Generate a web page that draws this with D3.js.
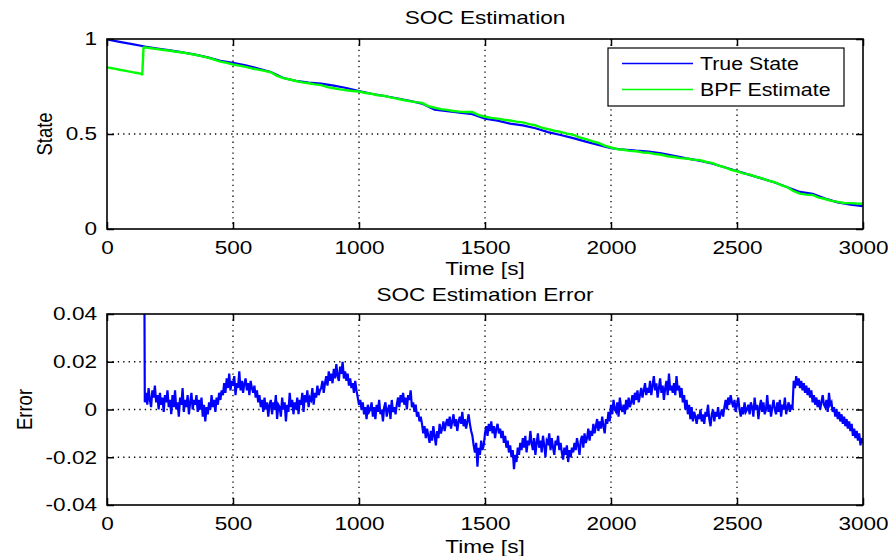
<!DOCTYPE html>
<html><head><meta charset="utf-8">
<script src="https://cdn.jsdelivr.net/npm/d3@7/dist/d3.min.js"></script>
<style>
html,body{margin:0;padding:0;background:#fff;}
svg text{font-family:"Liberation Sans",Arial,Helvetica,sans-serif;fill:#000;}
</style></head>
<body>
<svg id="chart" width="888" height="556"></svg>
<script>
// ---------------- DATA ----------------
const xTicks = [0, 500, 1000, 1500, 2000, 2500, 3000];
const stateTicks = [0, 0.5, 1];
const stateTickLabels = ["0", "0.5", "1"];
// error axis is kept in units of 1e-3
const errorTicks = [-40, -20, 0, 20, 40];
const errorTickLabels = ["-0.04", "-0.02", "0", "0.02", "0.04"];
const seriesNames = ["True State", "BPF Estimate"];

// True state (SOC)
const trueTime = [0,50,100,145,150,200,250,300,350,400,450,500,550,600,650,700,750,800,850,900,950,1000,1050,1100,1150,1200,1250,1300,1350,1400,1450,1500,1550,1600,1650,1700,1750,1800,1850,1900,1950,2000,2050,2100,2150,2200,2250,2300,2350,2400,2450,2500,2550,2600,2650,2700,2750,2800,2850,2900,2950,3000];
const trueState = [0.998,0.985,0.973,0.962,0.960,0.950,0.940,0.930,0.918,0.903,0.885,0.875,0.862,0.845,0.826,0.795,0.780,0.770,0.765,0.755,0.742,0.726,0.712,0.700,0.688,0.675,0.660,0.628,0.620,0.612,0.604,0.580,0.570,0.555,0.545,0.530,0.510,0.495,0.478,0.460,0.443,0.425,0.418,0.412,0.408,0.398,0.385,0.372,0.360,0.345,0.325,0.305,0.285,0.265,0.245,0.220,0.195,0.185,0.160,0.140,0.128,0.120];

// BPF estimate: early samples, then every 25 s from 150 s
const estEarlyTime = [0,25,50,75,100,125,140,145];
const estEarly = [0.851,0.845,0.838,0.832,0.826,0.820,0.814,0.956];
const estStepStart = 150, estStep = 25;
const estState = [
 0.956,0.951,0.947,0.942,0.938,0.933,0.929,0.923,0.917,0.910,
 0.902,0.892,0.881,0.874,0.866,0.860,0.853,0.845,0.839,0.832,
 0.825,0.806,0.794,0.787,0.779,0.772,0.767,0.761,0.757,0.747,
 0.741,0.735,0.730,0.726,0.724,0.716,0.712,0.704,0.701,0.693,
 0.686,0.679,0.673,0.668,0.664,0.647,0.638,0.631,0.627,0.621,
 0.618,0.616,0.616,0.599,0.591,0.585,0.581,0.575,0.571,0.565,
 0.561,0.552,0.546,0.533,0.526,0.517,0.511,0.502,0.496,0.482,
 0.473,0.462,0.453,0.439,0.429,0.420,0.417,0.411,0.409,0.403,
 0.401,0.395,0.391,0.383,0.379,0.373,0.371,0.365,0.363,0.354,
 0.348,0.335,0.325,0.312,0.304,0.293,0.286,0.275,0.266,0.255,
 0.246,0.231,0.220,0.199,0.186,0.181,0.179,0.165,0.158,0.148,
 0.143,0.137,0.136,0.134,0.133
];

// Estimation error (units of 1e-3): early samples, then every 5 s from 150 s
const errEarlyTime = [0, 140, 145];
const errEarly = [150, 148, 150];
const errStepStart = 150, errStep = 5;
const errorMilli = [
 3,7,2,9,4,1,8,5,10,3,6,0,7,2,5,-1,6,3,8,1,
 4,-2,6,1,8,0,3,-3,5,2,9,-1,4,1,6,-2,3,7,0,4,
 2,6,-1,4,0,5,-3,2,-5,1,-2,3,0,6,1,4,-1,5,2,7,
 4,8,6,11,7,13,9,15,8,12,10,14,6,11,9,16,8,12,7,11,
 13,8,11,6,12,9,7,10,5,8,3,6,1,4,-1,5,0,3,-3,2,
 4,-2,3,0,6,-4,2,1,-3,5,0,3,-5,2,-1,7,1,4,-2,3,
 0,5,-2,4,2,7,-1,6,3,8,1,5,4,9,2,7,5,10,6,8,
 9,12,7,11,14,10,16,12,15,11,17,13,19,14,12,18,15,20,13,16,
 12,15,10,13,9,11,7,12,8,5,2,4,0,3,-2,1,-4,2,-1,0,
 3,-3,1,-4,2,-1,4,-2,0,-5,1,3,-3,0,2,-4,4,-1,1,-2,
 2,5,1,6,3,7,2,5,0,6,4,8,1,3,-1,2,-3,-1,-5,-3,
 -6,-10,-7,-12,-8,-11,-14,-9,-13,-7,-11,-15,-9,-12,-6,-10,-8,-5,-9,-6,
 -4,-7,-3,-8,-5,-2,-7,-4,-9,-5,-3,-6,-1,-7,-4,-8,-5,-2,-6,-9,
 -11,-15,-18,-14,-24,-16,-19,-13,-17,-15,-10,-7,-11,-6,-9,-5,-10,-7,-12,-8,
 -6,-10,-8,-12,-9,-14,-11,-16,-13,-18,-15,-20,-17,-25,-19,-22,-16,-19,-14,-17,
 -12,-16,-11,-18,-13,-15,-9,-14,-17,-12,-19,-14,-10,-16,-13,-18,-11,-15,-20,-13,
 -14,-10,-17,-12,-16,-19,-13,-15,-11,-17,-14,-18,-21,-16,-19,-15,-22,-17,-20,-16,
 -18,-14,-17,-12,-15,-19,-13,-11,-16,-10,-14,-12,-8,-13,-9,-11,-6,-10,-7,-4,
 -9,-5,-8,-3,-7,-10,-4,-6,-1,-5,2,-2,4,0,-1,3,-3,5,1,-1,
 2,-2,4,0,5,1,3,6,2,7,4,8,3,6,9,5,8,11,6,9,
 7,12,6,10,14,8,11,5,9,13,7,10,4,9,12,6,15,8,10,7,
 11,6,14,8,10,5,9,3,6,0,4,-2,2,-4,1,-5,-1,-3,-6,-2,
 -4,0,-5,-2,-6,-1,-3,2,-4,-7,-2,0,-5,-1,-3,1,-4,-2,0,-3,
 1,4,0,5,2,6,3,1,4,-1,2,5,0,-3,1,-2,3,-1,0,2,
 -2,3,1,-3,5,0,2,-4,1,4,-1,3,-2,0,6,-1,2,-3,1,4,
 0,-2,3,-1,4,-3,2,0,5,-2,1,3,-1,2,0,12,9,14,10,13,
 9,12,8,11,7,10,6,9,5,8,3,6,2,5,1,4,0,3,6,2,
 1,4,-1,7,2,3,-1,1,-3,0,-4,-1,-5,-2,-6,-3,-7,-4,-8,-5,
 -9,-6,-11,-8,-12,-9,-13,-10,-15,-12,-14
];

// ---------------- LAYOUT ----------------
const svg = d3.select("#chart");
const L = 107, R = 863;
const top1 = 39, bot1 = 229;
const top2 = 314, bot2 = 505;
const FS = 18.5;
const KX = 1.22; // horizontal stretch of the lettering

const x = d3.scaleLinear().domain([0, 3000]).range([L, R]);
const y1 = d3.scaleLinear().domain([0, 1]).range([bot1, top1]);
const y2 = d3.scaleLinear().domain([-40, 40]).range([bot2, top2]);

function panel(yScale, yTicks, topY, botY, id) {
  const grid = svg.append("g").attr("stroke", "#000").attr("stroke-width", 1.3)
    .attr("stroke-dasharray", "1.3,4.1");
  grid.selectAll(".vg").data(xTicks.slice(1, -1)).join("line")
    .attr("x1", d => x(d)).attr("x2", d => x(d)).attr("y1", topY).attr("y2", botY);
  grid.selectAll(".hg").data(yTicks.slice(1, -1)).join("line")
    .attr("x1", L).attr("x2", R).attr("y1", d => yScale(d)).attr("y2", d => yScale(d));
  svg.append("clipPath").attr("id", id).append("rect")
    .attr("x", L).attr("y", topY).attr("width", R - L).attr("height", botY - topY);
}

function axes(yScale, yTicks, yLabels, topY, botY) {
  const tl = 7;
  const fmtY = d => yLabels[yTicks.indexOf(d)];
  const gb = svg.append("g").attr("transform", `translate(0,${botY})`)
    .call(d3.axisBottom(x).tickValues(xTicks).tickSize(-tl).tickPadding(tl + 5).tickFormat(d3.format("d")));
  const gt = svg.append("g").attr("transform", `translate(0,${topY})`)
    .call(d3.axisTop(x).tickValues(xTicks).tickSize(-tl).tickFormat(""));
  const gl = svg.append("g").attr("transform", `translate(${L},0)`)
    .call(d3.axisLeft(yScale).tickValues(yTicks).tickSize(-tl).tickPadding(tl + 3).tickFormat(fmtY));
  const gr = svg.append("g").attr("transform", `translate(${R},0)`)
    .call(d3.axisRight(yScale).tickValues(yTicks).tickSize(-tl).tickFormat(""));
  [gb, gt, gl, gr].forEach(a => {
    a.select(".domain").remove();
    a.selectAll("line").attr("stroke", "#000").attr("stroke-width", 1.5);
    a.selectAll("text").attr("font-size", FS).attr("fill", "#000").classed("stretch", true)
      .attr("font-family", '"Liberation Sans",Arial,sans-serif');
  });
  svg.append("rect").attr("x", L).attr("y", topY).attr("width", R - L).attr("height", botY - topY)
    .attr("fill", "none").attr("stroke", "#000").attr("stroke-width", 1.6);
}

// ---------- Top panel ----------
panel(y1, stateTicks, top1, bot1, "clip1");
const lineTop = d3.line().x(d => x(d[0])).y(d => y1(d[1]));
const trueData = trueTime.map((t, i) => [t, trueState[i]]);
const estData = estEarlyTime.map((t, i) => [t, estEarly[i]])
  .concat(estState.map((v, i) => [estStepStart + i * estStep, v]));
svg.append("path").datum(trueData).attr("d", lineTop).attr("fill", "none")
  .attr("stroke", "#0000ff").attr("stroke-width", 2.2).attr("clip-path", "url(#clip1)");
svg.append("path").datum(estData).attr("d", lineTop).attr("fill", "none")
  .attr("stroke", "#00ff00").attr("stroke-width", 2.4).attr("stroke-linejoin", "round")
  .attr("clip-path", "url(#clip1)");
axes(y1, stateTicks, stateTickLabels, top1, bot1);

// Legend
const lg = svg.append("g");
lg.append("rect").attr("x", 608).attr("y", 48).attr("width", 236).attr("height", 58)
  .attr("fill", "#fff").attr("stroke", "#000").attr("stroke-width", 1.2);
const legColors = ["#0000ff", "#00ff00"];
seriesNames.forEach((n, i) => {
  const yy = 63.5 + i * 26;
  lg.append("line").attr("x1", 622).attr("x2", 693).attr("y1", yy).attr("y2", yy)
    .attr("stroke", legColors[i]).attr("stroke-width", 1.5);
  lg.append("text").attr("x", 700).attr("y", yy + 6.5).attr("font-size", 17.5)
    .classed("stretch", true).text(n);
});

// ---------- Bottom panel ----------
panel(y2, errorTicks, top2, bot2, "clip2");
const errData = errEarlyTime.map((t, i) => [t, errEarly[i]])
  .concat(errorMilli.map((v, i) => [errStepStart + i * errStep, v]));
const lineBot = d3.line().x(d => x(d[0])).y(d => y2(d[1]));
svg.append("path").datum(errData).attr("d", lineBot).attr("fill", "none")
  .attr("stroke", "#0000ff").attr("stroke-width", 2.2).attr("stroke-linejoin", "miter")
  .attr("clip-path", "url(#clip2)");
axes(y2, errorTicks, errorTickLabels, top2, bot2);

// ---------- Titles and labels ----------
const cx = (L + R) / 2;
function label(txt, yy) {
  svg.append("text").attr("x", cx).attr("y", yy).attr("text-anchor", "middle")
    .attr("font-size", FS).classed("stretch", true).text(txt);
}
label("SOC Estimation", 24);
label("Time [s]", 275);
label("SOC Estimation Error", 301);
label("Time [s]", 553);
function ylabel(txt, xx, yy) {
  svg.append("text").attr("transform", `translate(${xx},${yy}) scale(${KX},1) rotate(-90)`)
    .attr("text-anchor", "middle").attr("font-size", FS).text(txt);
}
ylabel("State", 52, (top1 + bot1) / 2);
ylabel("Error", 32, (top2 + bot2) / 2);

// horizontal stretch of the lettering
svg.selectAll("text.stretch").each(function () {
  const len = this.getComputedTextLength();
  if (len > 0) {
    d3.select(this).attr("textLength", len * KX).attr("lengthAdjust", "spacingAndGlyphs");
  }
});
</script>
</body></html>
